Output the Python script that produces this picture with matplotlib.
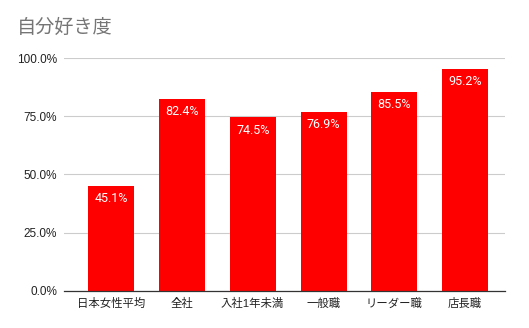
import numpy as np
import matplotlib.pyplot as plt
from matplotlib.ticker import FuncFormatter

categories = ['日本女性平均', '全社', '入社1年未満', '一般職', 'リーダー職', '店長職']
values = [45.1, 82.4, 74.5, 76.9, 85.5, 95.2]
yticks = [0, 25, 50, 75, 100]

jp = ['Liberation Sans', 'Noto Sans CJK JP']
lbl = ['Roboto', 'Noto Sans CJK JP']

fig = plt.figure(figsize=(5.29, 3.28), dpi=100)
ax = fig.add_axes([0.121, 0.113, 0.834, 0.71])

x = np.arange(len(categories))
ax.bar(x, values, width=0.65, color='#ff0000', zorder=3)

for xi, v in zip(x, values):
    ax.annotate(f'{v:.1f}%', (xi, v), xytext=(0, -4.5), textcoords='offset points',
                ha='center', va='top', color='white', fontsize=9, family=lbl, zorder=4)

ax.set_xlim(-0.664, 5.565)
ax.set_ylim(0, 100)
ax.set_yticks(yticks)
ax.yaxis.set_major_formatter(FuncFormatter(lambda v, p: f'{v:.1f}%'))
ax.set_xticks(x)
ax.set_xticklabels(categories, family=jp, fontsize=8.2)
for t in ax.get_yticklabels():
    t.set_family(jp)
    t.set_fontsize(8.5)

ax.grid(axis='y', color='#cccccc', linewidth=0.8, zorder=0)
ax.tick_params(length=0, pad=5, colors='#222222')
for s in ['top', 'right', 'left']:
    ax.spines[s].set_visible(False)
ax.spines['bottom'].set_color('#333333')
ax.spines['bottom'].set_linewidth(0.9)
ax.spines['bottom'].set_zorder(5)

fig.text(0.032, 0.915, '自分好き度', family=['Noto Sans CJK JP'], fontsize=13.8,
         color='#757575', va='center', ha='left')

fig.savefig('out.png', dpi=100)
